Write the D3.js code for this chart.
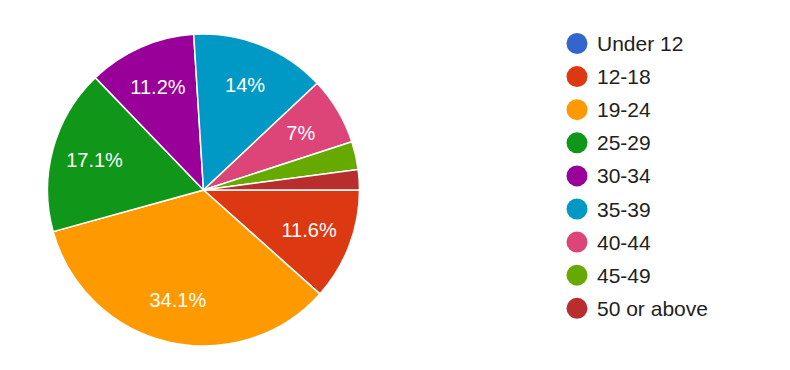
<!DOCTYPE html>
<html>
<head>
<meta charset="utf-8">
<script src="https://d3js.org/d3.v7.min.js"></script>
<style>
  body { margin: 0; background: #fff; }
  svg text { font-family: "Liberation Sans", Arial, sans-serif; }
</style>
</head>
<body>
<div id="chart"></div>
<script>
  var categories = ["Under 12", "12-18", "19-24", "25-29", "30-34", "35-39", "40-44", "45-49", "50 or above"];
  var values = [0, 11.6, 34.1, 17.1, 11.2, 14, 7, 2.9, 2.1];
  var labels = ["", "11.6%", "34.1%", "17.1%", "11.2%", "14%", "7%", "", ""];
  var colors = ["#3366cc", "#dc3912", "#ff9900", "#109618", "#990099", "#0099c6", "#dd4477", "#66aa00", "#b82e2e"];

  var width = 790, height = 370;
  var cx = 203.5, cy = 190, radius = 156;

  var svg = d3.select("#chart").append("svg")
      .attr("width", width)
      .attr("height", height);

  var data = categories.map(function(c, i) {
    return { name: c, value: values[i], label: labels[i], color: colors[i] };
  });

  // slices go clockwise starting from 3 o'clock
  var pie = d3.pie()
      .sort(null)
      .value(function(d) { return d.value; })
      .startAngle(Math.PI / 2)
      .endAngle(Math.PI / 2 + 2 * Math.PI);

  var arc = d3.arc().innerRadius(0).outerRadius(radius);
  var labelArc = d3.arc().innerRadius(113).outerRadius(113);

  var g = svg.append("g")
      .attr("transform", "translate(" + cx + "," + cy + ")");

  var arcs = pie(data).filter(function(d) { return d.data.value > 0; });

  g.selectAll("path")
      .data(arcs)
      .enter().append("path")
      .attr("d", arc)
      .attr("fill", function(d) { return d.data.color; })
      .attr("stroke", "#fff")
      .attr("stroke-width", 1.5);

  g.selectAll("text.lbl")
      .data(arcs.filter(function(d) { return d.data.label; }))
      .enter().append("text")
      .attr("class", "lbl")
      .attr("transform", function(d) { return "translate(" + labelArc.centroid(d) + ")"; })
      .attr("dy", "0.36em")
      .attr("text-anchor", "middle")
      .attr("fill", "#fff")
      .style("font-size", "20px")
      .text(function(d) { return d.data.label; });

  // legend
  var legend = svg.append("g")
      .attr("transform", "translate(577,43.5)");

  var item = legend.selectAll("g")
      .data(data)
      .enter().append("g")
      .attr("transform", function(d, i) { return "translate(0," + (i * 33.1) + ")"; });

  item.append("circle")
      .attr("r", 10.5)
      .attr("fill", function(d) { return d.color; });

  item.append("text")
      .attr("x", 20)
      .attr("dy", "0.36em")
      .attr("fill", "#222")
      .style("font-size", "21px")
      .text(function(d) { return d.name; });
</script>
</body>
</html>
